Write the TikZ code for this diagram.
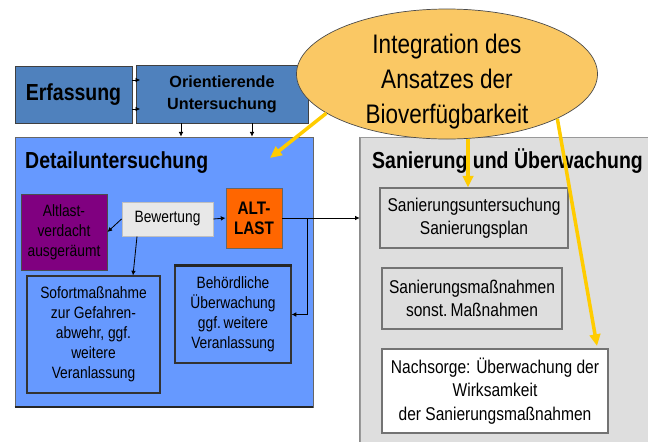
\documentclass[tikz,border=0pt]{standalone}
\usepackage{fontspec}
\setmainfont{Liberation Sans}[FakeStretch=0.84]
\newfontfamily\orieFont{Liberation Sans}
\usetikzlibrary{arrows.meta,shapes.geometric}
\definecolor{sanBlueDark}{RGB}{79,129,189}
\definecolor{sanBlue}{RGB}{102,153,255}
\definecolor{sanPurple}{RGB}{128,0,128}
\definecolor{sanOrange}{RGB}{255,102,0}
\definecolor{sanGrey}{RGB}{222,222,222}
\definecolor{sanLight}{RGB}{232,232,232}
\definecolor{sanGold}{RGB}{250,200,100}
\definecolor{sanYellow}{RGB}{255,204,0}
\newcommand\smallTxt{\fontsize{14}{17}\selectfont}
\newcommand\midTxt{\fontsize{15.8}{20}\selectfont}
\newcommand\titleTxt{\fontsize{19.8}{24}\selectfont\bfseries}

\begin{document}
\begin{tikzpicture}[x=0.03cm,y=-0.03cm,
  box/.style={rectangle, inner sep=0pt, align=center},
  topbox/.style={box, fill=sanBlueDark, draw=black!75, line width=0.8pt},
  innerbox/.style={box, fill=sanBlue, draw=black!80, line width=1pt, font=\smallTxt},
  greybox/.style={box, fill=sanGrey, draw=black!55, line width=0.9pt, font=\midTxt},
  arr/.style={-{Latex[length=4pt,width=4pt]}, line width=0.7pt},
  yarr/.style={-{Triangle[length=10pt,width=9pt]}, draw=sanYellow, line width=3pt}]
\path[use as bounding box, clip] (0,0) rectangle (648,441);

% right part
\node[box, fill=sanGrey, draw=black!40, line width=0.5pt, minimum width=9cm, minimum height=9.39cm] (san) at (510,293.5) {};
\draw[black!45, line width=1.2pt] (san.north west) -- (san.south west);
\node[anchor=west, inner sep=0pt, font=\titleTxt] (santitle) at (372,161) {Sanierung und Überwachung};
\node[greybox, minimum width=5.64cm, minimum height=1.8cm] (sanu) at (474,218) {Sanierungsuntersuchung\\Sanierungsplan};
\node[greybox, minimum width=5.4cm, minimum height=1.83cm] (sanm) at (472,298.5) {Sanierungsmaßnahmen\\sonst.\,Maßnahmen};
\node[greybox, fill=white, minimum width=6.78cm, minimum height=2.52cm] (nach) at (495,391) {Nachsorge: Überwachung der\\Wirksamkeit\\der Sanierungsmaßnahmen};

% left part
\node[box, fill=sanBlue, draw=black!60, line width=0.6pt, minimum width=8.94cm, minimum height=8.1cm] (detail) at (164,272) {};
\draw[black!85, line width=1.6pt] (detail.south west) -- (detail.south east);
\node[anchor=west, inner sep=0pt, font=\titleTxt] (dettitle) at (25,163) {Detailuntersuchung};
\node[topbox, minimum width=3.51cm, minimum height=1.71cm, font=\titleTxt] (erf) at (73.5,94.5) {Erfassung};
\node[topbox, minimum width=5.16cm, minimum height=1.74cm, font={\orieFont\fontsize{13.8}{18.7}\selectfont\bfseries}] (ori) at (222,94) {Orientierende\\Untersuchung};

\node[box, fill=sanPurple, draw=black!70, line width=0.8pt, minimum width=2.58cm, minimum height=2.28cm, font=\smallTxt] (verd) at (64,232) {Altlast-\\verdacht\\ausgeräumt};
\node[box, fill=sanLight, draw=black!25, line width=0.8pt, minimum width=2.73cm, minimum height=1.02cm, font=\smallTxt] (bew) at (167.5,219) {Bewertung};
\node[box, fill=sanOrange, draw=black!60, line width=0.8pt, minimum width=1.68cm, minimum height=1.8cm, font={\fontsize{15.5}{17}\selectfont\bfseries}] (alt) at (254,218) {ALT-\\LAST};
\node[innerbox, minimum width=3.99cm, minimum height=3.51cm] (sofort) at (93.5,334.5) {Sofortmaßnahme\\zur Gefahren-\\abwehr, ggf.\\weitere\\Veranlassung};
\node[innerbox, minimum width=3.48cm, minimum height=2.91cm] (beh) at (233,314.5) {Behördliche\\Überwachung\\ggf.\,weitere\\Veranlassung};
\draw[black!85, line width=2pt] (beh.north west) -- (beh.north east);

% connectors
\draw[arr, shorten >=-4pt] (erf.east |- 0,80) -- (ori.west |- 0,80);
\draw[arr, shorten >=-4pt] (erf.east |- 0,109) -- (ori.west |- 0,109);
\draw[arr] (ori.south -| 181,0) -- (detail.north -| 181,0);
\draw[arr] (ori.south -| 252,0) -- (detail.north -| 252,0);
\draw[arr] (bew.west) -- (verd.east);
\draw[arr] (bew.east) -- (alt.west);
\draw[arr] (bew.south -| 137,0) -- (sofort.north -| 133,0);
\draw[arr] (alt.east) -- (san.west |- alt.east);
\coordinate (fork) at (307,218);
\draw[arr] (fork) |- (beh.east);

% bioavailability
\node[ellipse, fill=sanGold, draw=black!70, line width=0.6pt, inner ysep=-10pt, minimum width=9.03cm, minimum height=3.9cm, align=center, font={\fontsize{22.9}{29.8}\selectfont}] (ell) at (447,74) {\rule{0pt}{30pt}Integration des\\Ansatzes der\\Bioverfügbarkeit};
\coordinate (dtip) at (270,158);
\coordinate (ntip) at (597,346);
\draw[yarr] (ell.198) -- (dtip);
\draw[yarr] (ell.south -| 468,0) -- (sanu.north -| 468,0);
\draw[yarr] (ell.338) -- (ntip);
\end{tikzpicture}
\end{document}
